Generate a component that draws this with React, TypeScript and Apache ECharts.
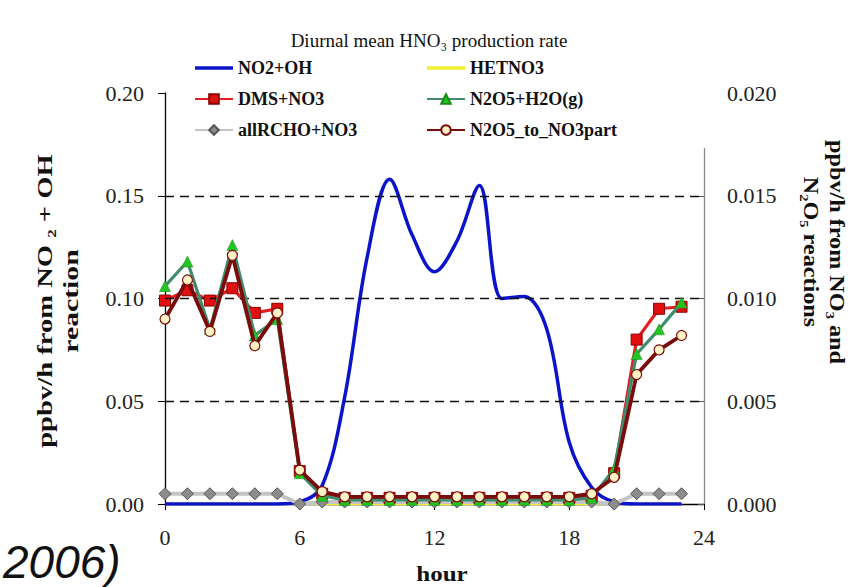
import React, { useEffect, useRef } from "react";
import * as echarts from "echarts";

const hours = [0, 1, 2, 3, 4, 5, 6, 7, 8, 9, 10, 11, 12, 13, 14, 15, 16, 17, 18, 19, 20, 21, 22, 23];
const xTicks = [0, 6, 12, 18, 24];

// left axis (ppbv/h from NO2 + OH)
const no2oh = [0, 0, 0, 0, 0, 0, 0.001, 0.009, 0.052, 0.12, 0.158, 0.131, 0.113, 0.128, 0.155, 0.1, 0.101, 0.085, 0.03, 0.008, 0.001, 0, 0, 0];
// right axis (ppbv/h from NO3 and N2O5 reactions)
const hetno3 = [0, 0, 0, 0, 0, 0, 0, 0, 0, 0, 0, 0, 0, 0, 0, 0, 0, 0, 0, 0, 0, 0, 0, 0];
const dmsNo3 = [0.0099, 0.0104, 0.0099, 0.0105, 0.0093, 0.0095, 0.0016, 0.0005, 0.0003, 0.0003, 0.0003, 0.0003, 0.0003, 0.0003, 0.0003, 0.0003, 0.0003, 0.0003, 0.0003, 0.0004, 0.0015, 0.008, 0.0095, 0.0096];
const n2o5H2o = [0.0106, 0.0118, 0.0085, 0.0126, 0.0082, 0.009, 0.0015, 0.0004, 0.0002, 0.0002, 0.0002, 0.0002, 0.0002, 0.0002, 0.0002, 0.0002, 0.0002, 0.0002, 0.0002, 0.0003, 0.0017, 0.0073, 0.0085, 0.0098];
const allRcho = [0.0005, 0.0005, 0.0005, 0.0005, 0.0005, 0.0005, 0, 0.0001, 0.0001, 0.0001, 0.0001, 0.0001, 0.0001, 0.0001, 0.0001, 0.0001, 0.0001, 0.0001, 0.0001, 0.0001, 0, 0.0005, 0.0005, 0.0005];
const n2o5ToNo3 = [0.009, 0.0109, 0.0084, 0.0121, 0.0077, 0.0093, 0.00165, 0.0006, 0.00035, 0.00035, 0.00035, 0.00035, 0.00035, 0.00035, 0.00035, 0.00035, 0.00035, 0.00035, 0.00035, 0.0005, 0.0013, 0.0063, 0.0075, 0.0082];

const seriesNames = ["NO2+OH", "HETNO3", "DMS+NO3", "N2O5+H2O(g)", "allRCHO+NO3", "N2O5_to_NO3part"];
const legendCol1 = ["NO2+OH", "DMS+NO3", "allRCHO+NO3"];
const legendCol2 = ["HETNO3", "N2O5+H2O(g)", "N2O5_to_NO3part"];
const plainLineItems = ["NO2+OH", "HETNO3"];
const gridLines = [0.05, 0.1, 0.15];

const pairs = (vals: number[]) => hours.map((h, i) => [h, vals[i]]);

const SERIF = "'Liberation Serif', 'Times New Roman', serif";
const LINE_ICON = "path://M0,0 L38,0 L38,3.5 L0,3.5 Z";

const legendData = (names: string[]) =>
  names.map((n) => (plainLineItems.includes(n) ? { name: n, icon: LINE_ICON } : n));

const legendBase = {
  orient: "vertical",
  top: 53,
  itemGap: 11,
  itemWidth: 38,
  itemHeight: 12,
  symbolKeepAspect: true,
  z: 20,
  textStyle: { fontFamily: SERIF, fontWeight: "bold", fontSize: 18, color: "#111", lineHeight: 20 },
};

const axisName = (text: string, x: number, y: number, rot: number, sx: number) => ({
  type: "text",
  x,
  y,
  rotation: rot,
  scaleX: sx,
  z: 20,
  style: {
    text,
    fontFamily: SERIF,
    fontWeight: "bold",
    fontSize: 22,
    fill: "#111",
    align: "center",
    verticalAlign: "middle",
  },
});

export default function App() {
  const ref = useRef<HTMLDivElement>(null);
  useEffect(() => {
    document.body.style.margin = "0";
    const chart = echarts.init(ref.current!, null, { renderer: "svg" });
    const option: any = {
      animation: false,
      backgroundColor: "#ffffff",
      grid: { left: 165, top: 93, width: 539, height: 411, containLabel: false },
      xAxis: {
        type: "value",
        min: 0,
        max: 24,
        interval: 6,
        axisLine: { show: true, lineStyle: { color: "#000", width: 1.3 } },
        axisTick: { show: true, length: 6, lineStyle: { color: "#000" } },
        splitLine: { show: false },
        axisLabel: {
          margin: 22,
          fontFamily: SERIF,
          fontSize: 22,
          color: "#222",
          formatter: (v: number) => (xTicks.includes(v) ? String(v) : ""),
        },
      },
      yAxis: [
        {
          type: "value",
          min: 0,
          max: 0.2,
          interval: 0.05,
          position: "left",
          axisLine: { show: true, lineStyle: { color: "#000", width: 1.3 } },
          axisTick: { show: true, length: 7, lineStyle: { color: "#000" } },
          splitLine: { show: false },
          axisLabel: {
            margin: 21,
            fontFamily: SERIF,
            fontSize: 22,
            color: "#222",
            formatter: (v: number) => v.toFixed(2),
          },
        },
        {
          type: "value",
          min: 0,
          max: 0.02,
          interval: 0.005,
          position: "right",
          axisLine: { show: true, lineStyle: { color: "#888", width: 1.3 } },
          axisTick: { show: true, inside: true, length: 6, lineStyle: { color: "#555" } },
          splitLine: { show: false },
          axisLabel: {
            margin: 23,
            fontFamily: SERIF,
            fontSize: 22,
            color: "#222",
            formatter: (v: number) => v.toFixed(3),
          },
        },
      ],
      legend: [
        { ...legendBase, data: legendData(legendCol1), left: 189 },
        { ...legendBase, data: legendData(legendCol2), left: 421 },
      ],
      graphic: [
        {
          type: "rect",
          z: 10,
          shape: { x: 172, y: 50, width: 540, height: 98 },
          style: { fill: "#ffffff" },
          silent: true,
        },
        {
          type: "text",
          z: 20,
          x: 429,
          y: 40,
          style: {
            text: "Diurnal mean HNO₃ production rate",
            fontFamily: SERIF,
            fontSize: 19,
            fill: "#111",
            align: "center",
            verticalAlign: "middle",
          },
        },
        axisName("ppbv/h from NO ₂ + OH", 45, 301, Math.PI / 2, 1.3),
        axisName("reaction", 71, 301, Math.PI / 2, 1.35),
        axisName("ppbv/h from NO₃ and", 838, 252, -Math.PI / 2, 1.1),
        axisName("N₂O₅ reactions", 812, 252, -Math.PI / 2, 1.1),
        {
          type: "text",
          x: 442,
          y: 574,
          scaleX: 1.25,
          style: {
            text: "hour",
            fontFamily: SERIF,
            fontWeight: "bold",
            fontSize: 20,
            fill: "#111",
            align: "center",
            verticalAlign: "middle",
          },
        },
        {
          type: "text",
          x: 3,
          y: 562,
          style: {
            text: "2006)",
            fontFamily: "'Liberation Sans', Arial, sans-serif",
            fontStyle: "italic",
            fontSize: 46,
            fill: "#111",
            align: "left",
            verticalAlign: "middle",
          },
        },
      ],
      series: [
        {
          name: seriesNames[0],
          type: "line",
          yAxisIndex: 0,
          data: pairs(no2oh),
          smooth: 0.35,
          symbol: "none",
          color: "#0b14c8",
          lineStyle: { color: "#0b14c8", width: 3.5 },
          markLine: {
            silent: true,
            symbol: ["none", "none"],
            label: { show: false },
            lineStyle: { color: "#111", type: [9, 6], width: 1.3 },
            data: gridLines.map((v) => ({ yAxis: v })),
          },
          z: 3,
        },
        {
          name: seriesNames[1],
          type: "line",
          yAxisIndex: 1,
          data: pairs(hetno3),
          symbol: "none",
          color: "#f2ee2c",
          lineStyle: { color: "#f2ee2c", width: 2.5 },
          z: 2,
        },
        {
          name: seriesNames[2],
          type: "line",
          yAxisIndex: 1,
          data: pairs(dmsNo3),
          symbol: "rect",
          symbolSize: 11,
          color: "#e01010",
          itemStyle: { color: "#e01010", borderColor: "#8a0000", borderWidth: 1 },
          lineStyle: { color: "#e02020", width: 3.2 },
          z: 4,
        },
        {
          name: seriesNames[3],
          type: "line",
          yAxisIndex: 1,
          data: pairs(n2o5H2o),
          symbol: "triangle",
          symbolSize: 11,
          color: "#22c422",
          itemStyle: { color: "#22c422", borderColor: "#1a8a1a", borderWidth: 0.5 },
          lineStyle: { color: "#3f8c6e", width: 3.2 },
          z: 5,
        },
        {
          name: seriesNames[4],
          type: "line",
          yAxisIndex: 1,
          data: pairs(allRcho),
          symbol: "diamond",
          symbolSize: 12,
          color: "#8a8a8a",
          itemStyle: { color: "#8c8c8c", borderColor: "#555", borderWidth: 1 },
          lineStyle: { color: "#c4c4c4", width: 4 },
          z: 3,
        },
        {
          name: seriesNames[5],
          type: "line",
          yAxisIndex: 1,
          data: pairs(n2o5ToNo3),
          symbol: "circle",
          symbolSize: 10,
          color: "#fff2c4",
          itemStyle: { color: "#fff2c4", borderColor: "#7a0c0c", borderWidth: 1.2 },
          lineStyle: { color: "#7a0c0c", width: 3.8 },
          z: 6,
        },
      ],
    };
    chart.setOption(option);
    return () => chart.dispose();
  }, []);
  return <div ref={ref} style={{ width: 857, height: 587 }} />;
}
